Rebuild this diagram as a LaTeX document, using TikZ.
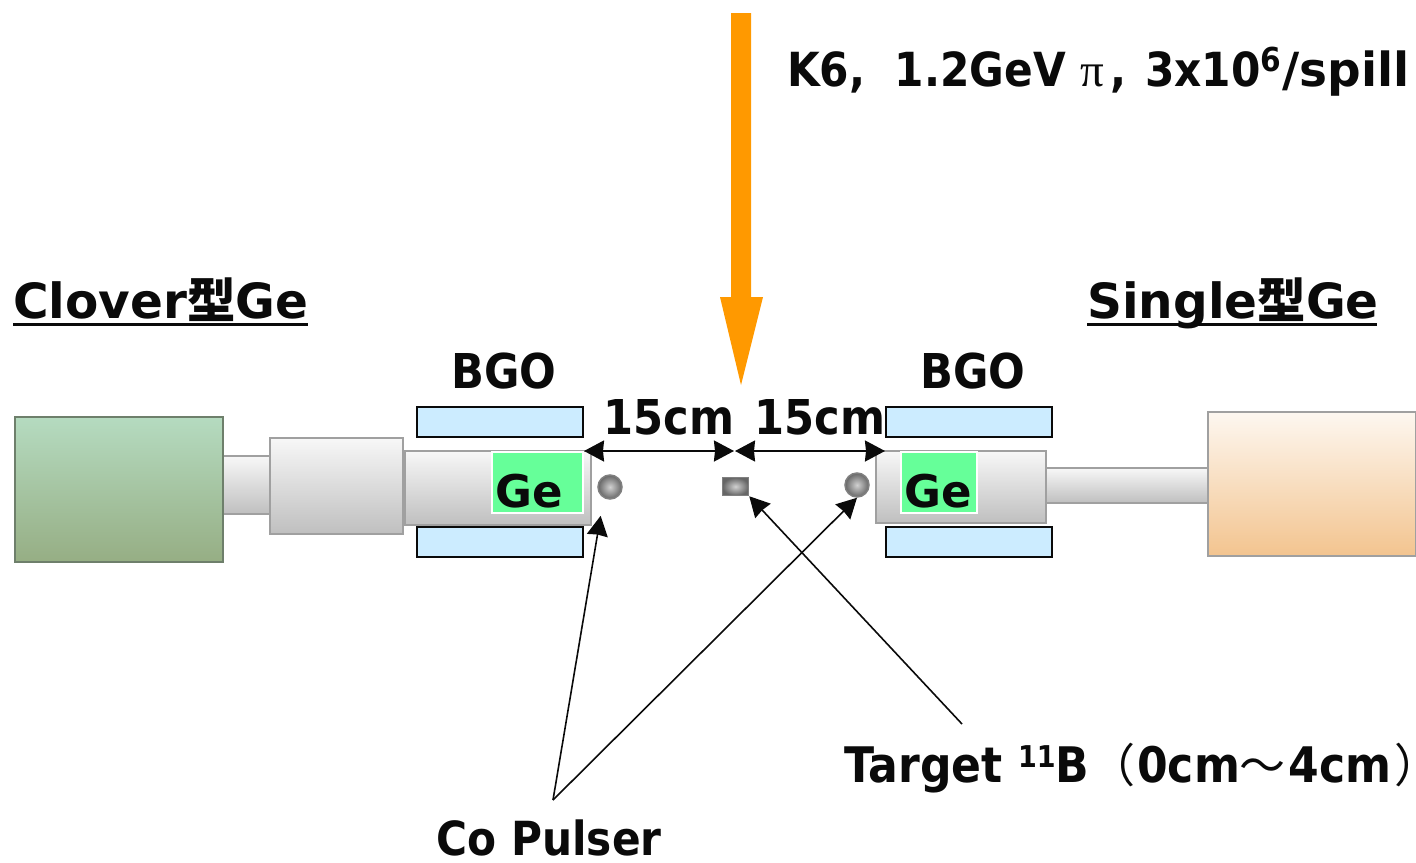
\documentclass[tikz,border=0pt]{standalone}
\usepackage{fontspec}
\setmainfont{DejaVu Sans}[BoldFeatures={FakeStretch=0.9}]
\newfontfamily\widefont{DejaVu Sans}
\newfontfamily\cjkfont{Noto Sans CJK JP}
\newfontfamily\greekfont{Liberation Serif}
\usetikzlibrary{arrows.meta}
\definecolor{inkblack}{HTML}{0A0A0A}
\definecolor{beamorange}{HTML}{FF9900}
\definecolor{bgoblue}{HTML}{CCECFF}
\definecolor{gegreen}{HTML}{66FF99}
\definecolor{edgegray}{HTML}{A0A0A0}
\tikzset{
	lbl/.style={inner sep=0pt, text=inkblack, font=\fontsize{#1}{#1}\selectfont\bfseries},
	lbl/.default=48,
	lblwide/.style={inner sep=0pt, text=inkblack, font=\fontsize{#1}{#1}\selectfont\widefont\bfseries},
	lblwide/.default=48.5,
	bgobox/.style={draw=inkblack, line width=1.8pt, fill=bgoblue},
	gebox/.style={draw=white, line width=1.8pt, fill=gegreen},
	tube/.style={draw=edgegray, line width=2.4pt, top color=#1, bottom color=black!25},
	tube/.default=black!3,
	spot/.style={inner sep=0pt, minimum size=24pt, draw=black!50, line width=1.5pt, inner color=black!18, outer color=black!60},
}
\begin{document}
\begin{tikzpicture}[x=1pt, y=-1pt, line join=miter, >={Stealth[length=20pt,width=21pt,inset=1pt]}]
	\useasboundingbox (0,0) rectangle (1416,862);
	% connecting tubes first, the boxes sit on top of them
	\draw[tube] (223,456) rectangle (270,514);
	\draw[tube] (1046,468) rectangle (1208,503);
	% detector bodies
	\draw[draw={rgb,255:red,110;green,127;blue,107}, line width=2pt, top color={rgb,255:red,181;green,219;blue,192}, bottom color={rgb,255:red,150;green,174;blue,132}] (15,417) rectangle (223,562);
	\draw[tube] (270,438) rectangle (403,534);
	\draw[tube] (405,451) rectangle (591,525);
	\draw[tube] (876,451) rectangle (1046,523);
	\draw[draw=edgegray, line width=2.4pt, top color={rgb,255:red,253;green,247;blue,240}, bottom color={rgb,255:red,243;green,196;blue,143}] (1208,412) rectangle (1416,556);
	% BGO and Ge
	\foreach \x in {417,886}{
		\draw[bgobox] (\x,407) rectangle (\x+166,437);
		\draw[bgobox] (\x,527) rectangle (\x+166,557);
	}
	\draw[gebox] (492,452) rectangle (583,513);
	\draw[gebox] (901,452) rectangle (977,513);
	\node[lblwide=45] (geleft) at (529,491) {Ge};
	\node[lblwide=45] (geright) at (938,491) {Ge};
	\node[lbl] (bgoleft) at (504,371) {BGO};
	\node[lbl] (bgoright) at (973,371) {BGO};
	% pulsers and target
	\node[spot, circle] (pulserL) at (610,487) {};
	\node[spot, circle] (pulserR) at (857,485) {};
	\node[spot, rectangle, minimum width=26pt, minimum height=18pt] (target) at (735.5,486.5) {};
	% beam
	\fill[beamorange] (731,13)--(751,13)--(751,297)--(763,297)--(741,385)--(720,297)--(731,297)--cycle;
	\node[lbl=47, anchor=base west] (beam) at (787,86) {K6,\ \ 1.2GeV {\greekfont\mdseries π}\kern6pt,\kern4pt\ 3x10\raisebox{15pt}{\fontsize{33}{33}\selectfont 6}\kern1pt{\widefont /spill}};
	% titles
	\node[lblwide, anchor=base west] (clover) at (13,318) {Clover{\cjkfont 型}Ge};
	\node[lblwide, anchor=base west] (single) at (1087,318) {Single{\cjkfont 型}Ge};
	\draw[inkblack, line width=3pt] (clover.base west)++(0,6) -- ++(295,0);
	\draw[inkblack, line width=3pt] (single.base west)++(0,6) -- ++(290,0);
	% distances
	\node[lbl] (distL) at (669,417) {15cm};
	\node[lbl] (distR) at (820,417) {15cm};
	\coordinate (dimL) at (584,451);
	\coordinate (dimCL) at (734,451);
	\coordinate (dimCR) at (735,451);
	\coordinate (dimR) at (885,451);
	\draw[<->, inkblack, line width=2pt] (dimL)--(dimCL);
	\draw[<->, inkblack, line width=2pt] (dimCR)--(dimR);
	% labels below
	\node[lbl=49, anchor=base west] (targetlbl) at (844,782) {Target \raisebox{15pt}{\fontsize{30}{30}\selectfont 11}B{\cjkfont\mdseries\fontsize{46}{46}\selectfont （}\kern2pt 0cm{\cjkfont\mdseries\fontsize{46}{46}\selectfont ～}\kern3pt 4cm\kern3pt{\cjkfont\mdseries\fontsize{46}{46}\selectfont ）}\kern-16pt};
	\node[lbl=47] (pulserlbl) at (549,838) {Co Pulser};
	\coordinate (targetfoot) at (962,724);
	\coordinate (pulserfoot) at (553,800);
	\draw[->, inkblack, line width=1.6pt] (targetfoot)--(target.south east);
	\draw[->, inkblack, line width=1.6pt] (pulserfoot)--(pulserR.south);
	\draw[->, inkblack, line width=1.6pt, shorten >=18pt] (pulserfoot)--(pulserL.240);
\end{tikzpicture}
\end{document}
